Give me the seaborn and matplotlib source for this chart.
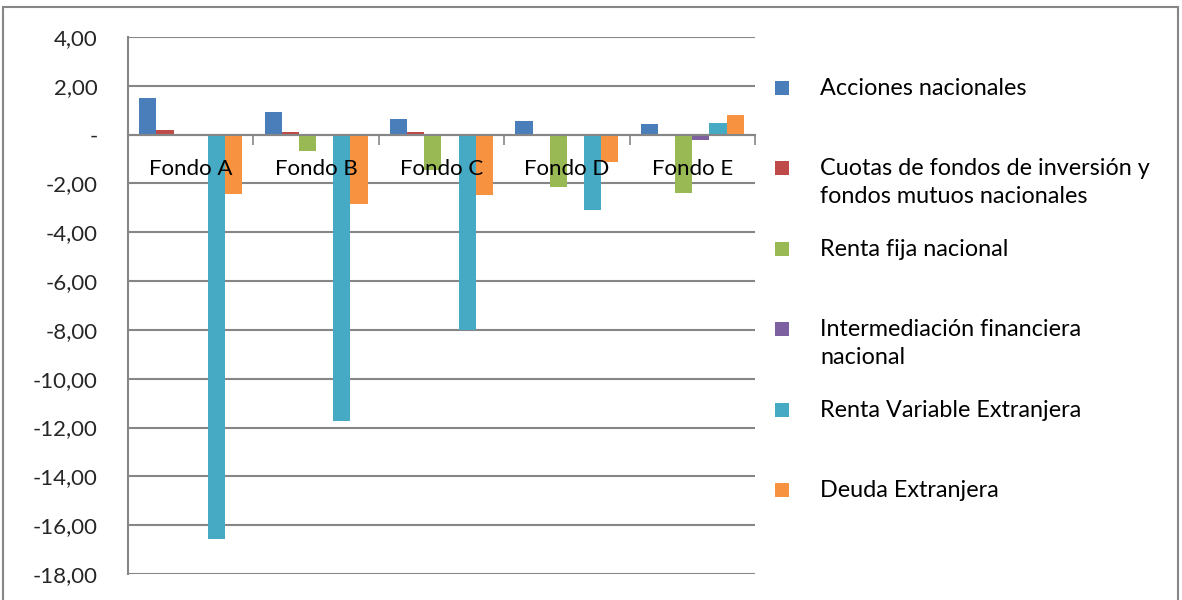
import pandas as pd
import matplotlib
matplotlib.use("Agg")
import matplotlib.pyplot as plt
import seaborn as sns
from matplotlib.patches import Rectangle

# Data
fondos = ["Fondo A", "Fondo B", "Fondo C", "Fondo D", "Fondo E"]
series = [
    "Acciones nacionales",
    "Cuotas de fondos de inversión y fondos mutuos nacionales",
    "Renta fija nacional",
    "Intermediación financiera nacional",
    "Renta Variable Extranjera",
    "Deuda Extranjera",
]
legend_labels = [
    "Acciones nacionales",
    "Cuotas de fondos de inversión y\nfondos mutuos nacionales",
    "Renta fija nacional",
    "Intermediación financiera\nnacional",
    "Renta Variable Extranjera",
    "Deuda Extranjera",
]
acciones = [1.50, 0.93, 0.64, 0.56, 0.42]
cuotas = [0.17, 0.12, 0.10, 0.02, 0.00]
renta_fija = [-0.05, -0.67, -1.45, -2.15, -2.38]
intermediacion = [0.00, 0.00, 0.00, -0.05, -0.22]
renta_var_ext = [-16.55, -11.74, -8.00, -3.10, 0.46]
deuda_ext = [-2.43, -2.84, -2.47, -1.11, 0.80]

COLORS = ["#4A7EBB", "#BE4B48", "#98B954", "#7D60A0", "#46AAC5", "#F69240"]
GRID = "#868686"
FS = 16

rows = []
for s, vals in zip(series, [acciones, cuotas, renta_fija, intermediacion, renta_var_ext, deuda_ext]):
    for f, v in zip(fondos, vals):
        rows.append({"fondo": f, "serie": s, "valor": v})
df = pd.DataFrame(rows)

sns.set_theme(style="white")
plt.rcParams["font.family"] = ["Lato", "DejaVu Sans"]

fig = plt.figure(figsize=(11.82, 6.0), dpi=100)
ax = fig.add_axes([128 / 1182, 1 - 574 / 600, (755 - 128) / 1182, (574 - 37) / 600])

sns.barplot(data=df, x="fondo", y="valor", hue="serie", hue_order=series,
            palette=COLORS, width=0.82, gap=0, saturation=1, ax=ax, legend=False,
            errorbar=None, linewidth=0, edgecolor="none")

ax.set_ylim(-18, 4)
ax.set_xlim(-0.5, 4.5)
yt = list(range(-18, 5, 2))
ax.set_yticks(yt)
ax.set_yticklabels(["-" if v == 0 else f"{v:.2f}".replace(".", ",") for v in yt], fontsize=FS)
ax.yaxis.grid(True, color=GRID, linewidth=1.5)
ax.set_axisbelow(True)
ax.tick_params(axis="y", direction="out", length=6, width=1.2, color=GRID, pad=16)
ax.set_xlabel("")
ax.set_ylabel("")

# category axis at zero with boundary tick marks
ax.spines["bottom"].set_position(("data", 0))
ax.spines["bottom"].set_color(GRID)
ax.spines["bottom"].set_linewidth(1.5)
ax.spines["left"].set_color(GRID)
ax.spines["left"].set_linewidth(1.5)
ax.spines["top"].set_visible(False)
ax.spines["right"].set_visible(False)
ax.set_xticks([i - 0.5 for i in range(len(fondos) + 1)])
ax.set_xticklabels([])
ax.tick_params(axis="x", direction="out", length=7, width=1.2, color=GRID, bottom=True)
for i, f in enumerate(fondos):
    ax.text(i, -1.4, f, ha="center", va="center", fontsize=FS, color="black")

# legend on the right
for i, (lab, col) in enumerate(zip(legend_labels, COLORS)):
    yc = 88 + i * 80.4
    fig.patches.append(Rectangle((775 / 1182, 1 - (yc + 7) / 600), 14 / 1182, 14 / 600,
                                 transform=fig.transFigure, facecolor=col, edgecolor="none"))
    fig.text(820 / 1182, 1 - (yc - 10) / 600, lab, ha="left", va="top",
             fontsize=16.8, color="black", linespacing=1.4)

# outer chart border
fig.patches.append(Rectangle((3 / 1182, -0.02), 1175 / 1182, 1.02 - 7 / 600,
                             transform=fig.transFigure, facecolor="none",
                             edgecolor=GRID, linewidth=1.5))

fig.savefig("out.png", dpi=100)
